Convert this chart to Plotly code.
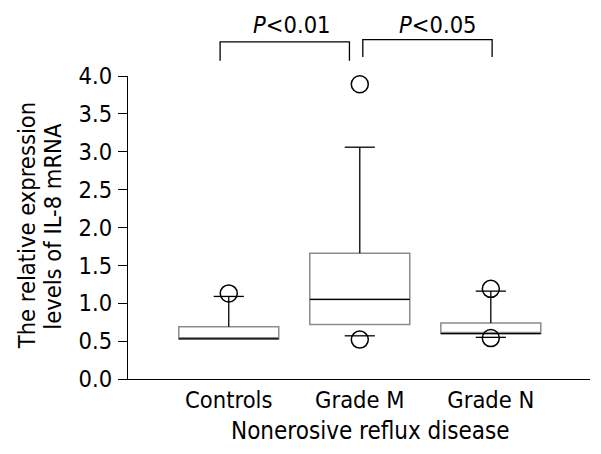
import plotly.graph_objects as go

# box summary values
groups = ['Controls', 'Grade M', 'Grade N']
q1 = [0.53, 0.72, 0.60]
median = [0.53, 1.05, 0.60]
q3 = [0.69, 1.66, 0.74]
whisk_lo = [0.53, 0.57, 0.55]
whisk_hi = [1.09, 3.06, 1.16]
outliers = [[1.13], [3.89, 0.52], [1.19, 0.54]]

# significance brackets: (x left, x right, top, leg bottom, label x, label)
brackets = [
    (0.934, 1.921, 4.45, 4.20, 1.483, '<i>P</i>&lt;0.01'),
    (2.023, 3.010, 4.48, 4.25, 2.598, '<i>P</i>&lt;0.05'),
]
bracket_text_y = 4.67

y_title_lines = ['The relative expression', 'levels of IL-8 mRNA']
x_title = 'Nonerosive reflux disease'

FONT = 'DejaVu Sans Condensed, DejaVu Sans, Verdana, sans-serif'
FS = 23.5
X_RANGE = [0.231, 3.757]
Y_MAX = 4.0
BOX_W = 0.763
CAP = 0.115
pos = [i + 1 for i in range(len(groups))]

fig = go.Figure()

# gray box bodies
for p, g, a, m, b in zip(pos, groups, q1, median, q3):
    fig.add_trace(go.Box(x=[p], q1=[a], median=[m], q3=[b],
                         lowerfence=[a], upperfence=[b],
                         width=BOX_W, fillcolor='white',
                         line=dict(color='#8c8c8c', width=1.5),
                         boxpoints=False, hoverinfo='skip', name=g))

# black median, whiskers and caps
seg_x, seg_y = [], []
for p, a, m, b, lo, hi in zip(pos, q1, median, q3, whisk_lo, whisk_hi):
    seg_x += [p - BOX_W / 2, p + BOX_W / 2, None]
    seg_y += [m, m, None]
    seg_x += [p, p, None, p - CAP, p + CAP, None]
    seg_y += [b, hi, None, hi, hi, None]
    if lo < a:
        seg_x += [p - CAP, p + CAP, None]
        seg_y += [lo, lo, None]
fig.add_trace(go.Scatter(x=seg_x, y=seg_y, mode='lines',
                         line=dict(color='black', width=1.3), hoverinfo='skip'))

ox, oy = [], []
for p, vals in zip(pos, outliers):
    for v in vals:
        ox.append(p)
        oy.append(v)
fig.add_trace(go.Scatter(x=ox, y=oy, mode='markers', cliponaxis=False,
                         marker=dict(symbol='circle-open', size=17, color='black',
                                     line=dict(width=1.5, color='black'))))

def xd(x):
    return (x - X_RANGE[0]) / (X_RANGE[1] - X_RANGE[0])

for x0, x1, top, bot, tx, label in brackets:
    fig.add_shape(type='path', xref='x domain', yref='y domain',
                  path='M %f,%f L %f,%f L %f,%f L %f,%f' % (
                      xd(x0), bot / Y_MAX, xd(x0), top / Y_MAX,
                      xd(x1), top / Y_MAX, xd(x1), bot / Y_MAX),
                  line=dict(color='black', width=1.3))
    fig.add_annotation(x=xd(tx), y=bracket_text_y / Y_MAX,
                       xref='x domain', yref='y domain',
                       text=label, showarrow=False,
                       xanchor='center', yanchor='middle',
                       font=dict(size=FS, color='black', family=FONT))

# y title as two rotated lines (tighter line spacing than the axis title gives)
for xpos, line in zip([-0.218, -0.163], y_title_lines):
    fig.add_annotation(x=xpos, y=0.505, xref='paper', yref='paper',
                       text=line, textangle=-90, showarrow=False,
                       xanchor='center', yanchor='middle',
                       font=dict(size=FS, color='black', family=FONT))

# x title sits a little right of the plot centre in the original
fig.add_annotation(x=0.524, y=-0.170, xref='paper', yref='paper',
                   text=x_title, showarrow=False,
                   xanchor='center', yanchor='middle',
                   font=dict(size=24, color='black', family=FONT))

# page body adds an 8px offset, margins compensate for it
fig.update_layout(
    width=601, height=454,
    margin=dict(l=120, r=19, t=68, b=83),
    paper_bgcolor='white', plot_bgcolor='white',
    showlegend=False,
    font=dict(family=FONT, size=FS, color='black'),
    xaxis=dict(range=X_RANGE, tickvals=pos, ticktext=groups,
               tickfont=dict(size=FS, family=FONT, color='black'),
               showline=True, linecolor='black', linewidth=1.3,
               showgrid=False, zeroline=False, ticks=''),
    yaxis=dict(range=[0, Y_MAX], dtick=0.5, tickformat='.1f',
               tickfont=dict(size=FS, family=FONT, color='black'),
               showline=True, linecolor='black', linewidth=1.3,
               showgrid=False, zeroline=False,
               ticks='outside', ticklen=9, tickcolor='black', tickwidth=1.3,
               ticklabelstandoff=1),
)

fig.write_html('out.html')
